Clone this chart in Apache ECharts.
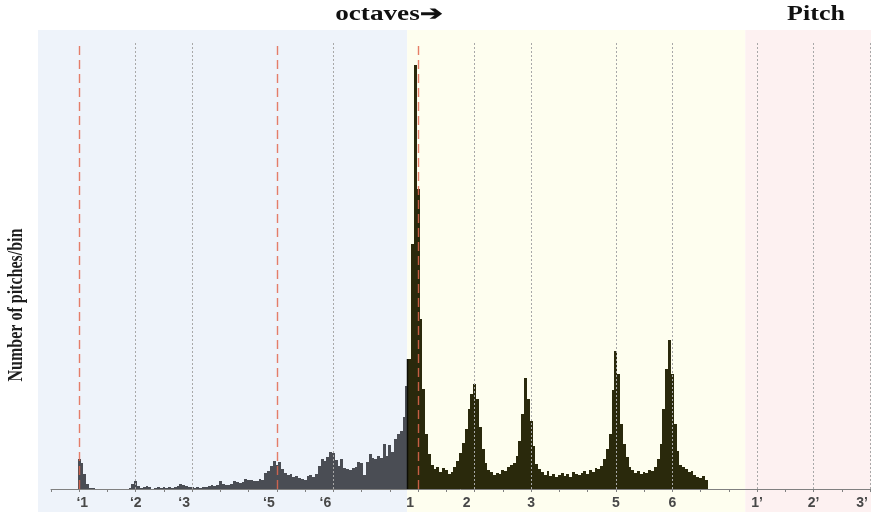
<!DOCTYPE html>
<html>
<head>
<meta charset="utf-8">
<script src="https://cdn.jsdelivr.net/npm/echarts@6/dist/echarts.min.js"></script>
<style>
  html, body { margin: 0; padding: 0; background: #ffffff; }
  #chart { width: 871px; height: 515px; }
</style>
</head>
<body>
<div id="chart"></div>
<script>
// Pitch histogram. x is measured in semitones above the lower-octave tonic ('1 = 0),
// counts are collected in 0.1-semitone bins.
const binWidth = 0.1;

// Lower octave, bins centred from 0.0 to 11.6 semitones
const lowerStart = 0.0;
const lowerCounts = [
  30, 26, 15, 5, 1, 1,
  0, 0, 0, 0, 0, 0, 0, 0, 0, 0, 0, 0,
  1, 5, 8, 3, 1,
  2, 3, 2, 0, 1, 2, 1, 2, 1, 2, 1, 2, 3, 5, 4, 3, 2, 2,
  1, 2, 1, 2, 2, 3, 4, 3, 4, 8, 5, 4, 4, 5, 8, 7, 6, 7,
  10, 9, 9, 8, 8, 10, 9, 16, 18, 23, 28, 24, 27, 20, 16, 14, 15,
  12, 13, 11, 10, 9, 13, 14, 12, 15, 23, 30, 28, 32, 37, 36, 29, 23, 30, 21, 20,
  19, 21, 22, 27, 26, 14, 27, 35, 31, 30, 33, 31, 45, 33, 44, 37, 50, 55, 58, 72, 103
];

// Middle octave, bins centred from 11.7 to 22.2 semitones
const middleStart = 11.7;
const middleCounts = [
  130, 245, 424, 300, 170, 100, 55, 35, 24,
  20, 22, 17, 21, 19, 15, 17, 22, 28, 36, 46, 60, 80, 95, 105, 90, 62, 40, 26, 19,
  17, 14, 16, 15, 19, 18, 22, 24, 26, 33, 48, 75, 111, 90, 68, 43, 25, 20, 17, 14,
  18, 13, 15, 12, 14, 16, 13, 15, 12, 17, 15, 14, 16, 18, 15, 19, 17, 21, 20, 23,
  30, 40, 55, 99, 138, 115, 65, 45, 32, 22, 19, 16, 18, 15, 17, 16, 19, 18, 22, 30,
  45, 80, 120, 149, 115, 65, 38, 24, 22, 20, 17, 18, 14, 12, 11, 13, 9
];

// Scale-degree tick labels (semitone -> label)
const degreeLabels = {
  0: '\u20181', 2: '\u20182', 4: '\u20183', 7: '\u20185', 9: '\u20186',
  12: '1', 14: '2', 16: '3', 19: '5', 21: '6',
  24: '1\u2019', 26: '2\u2019', 28: '3\u2019'
};
// Tonic / fifth reference lines and the other scale degrees
const tonicLines = [0, 7, 12];
const degreeLines = [2, 4, 9, 14, 16, 19, 21, 24, 26, 28];

// Octave region boundaries (semitones)
const regionEdges = [-1.46, 11.61, 23.58, 28.03];

const regionColors = ['#eef3fa', '#fefeef', '#fdf1f1'];
const lowerColor = '#4a4d54';
const middleColor = '#2a290c';

function toPairs(start, counts) {
  return counts.map((c, i) => [+(start + i * binWidth).toFixed(2), c]);
}

// each bin is a pixel-snapped rectangle so neighbouring bins share their edges;
// the first bin of a block can carry a dark left edge
function binRenderer(color, edgeColor) {
  return function (params, api) {
    const x = api.value(0);
    const top = api.coord([x - binWidth / 2, api.value(1)]);
    const bottom = api.coord([x + binWidth / 2, 0]);
    const x0 = Math.round(top[0]);
    const x1 = Math.round(bottom[0]);
    const rect = {
      type: 'rect',
      shape: { x: x0, y: top[1], width: x1 - x0, height: bottom[1] - top[1] },
      style: { fill: color }
    };
    if (!edgeColor || params.dataIndex !== 0) return rect;
    return {
      type: 'group',
      children: [rect, {
        type: 'line',
        shape: { x1: x0 - 0.5, y1: top[1], x2: x0 - 0.5, y2: bottom[1] },
        style: { stroke: edgeColor, lineWidth: 1.5 }
      }]
    };
  };
}

const labelFont = {
  fontFamily: '"Liberation Sans", Arial, sans-serif',
  fontWeight: 'bold',
  fontSize: 14,
  color: '#484848'
};
// small per-label nudges so the degree names sit where they read best
const labelShift = { 0: 'r', 4: 'l', 7: 'l', 9: 'l', 12: 'l', 14: 'l', 28: 'l' };

const headingFont = {
  fontFamily: '"Liberation Serif", "Times New Roman", serif',
  fontWeight: 'bold',
  fontSize: 20,
  fill: '#111111',
  align: 'center',
  verticalAlign: 'middle'
};

const chart = echarts.init(document.getElementById('chart'), null, { renderer: 'canvas' });

const option = {
  animation: false,
  backgroundColor: '#ffffff',
  graphic: [
    {
      type: 'text', x: 389, y: 15, scaleX: 1.36,
      style: Object.assign({ text: 'octaves\u2794' }, headingFont)
    },
    {
      type: 'text', x: 816, y: 15, scaleX: 1.3,
      style: Object.assign({ text: 'Pitch' }, headingFont)
    },
    {
      type: 'text',
      x: 17, y: 305,
      rotation: Math.PI / 2,
      scaleY: 1.25,
      style: {
        text: 'Number of pitches/bin',
        fontFamily: '"Liberation Serif", "Times New Roman", serif',
        fontWeight: 'bold',
        fontSize: 16,
        fill: '#1e1e1e',
        align: 'center',
        verticalAlign: 'middle'
      }
    }
  ],
  grid: [
    { left: 38, right: 0, top: 30, bottom: 3 },
    { left: 51, right: 1, top: 41, bottom: 26 }
  ],
  xAxis: [
    { gridIndex: 0, type: 'value', min: regionEdges[0], max: regionEdges[3], show: false },
    {
      gridIndex: 1, type: 'value', min: -1, max: 28, interval: 1,
      z: 10,
      axisLine: { lineStyle: { color: '#808080', width: 1 } },
      axisTick: { show: true, length: 3, lineStyle: { color: '#808080' } },
      splitLine: { show: false },
      axisLabel: {
        margin: 7,
        showMinLabel: true, showMaxLabel: true,
        hideOverlap: false,
        formatter: function (v) {
          const t = degreeLabels[v];
          if (t === undefined) return '';
          const s = labelShift[v];
          return s ? '{' + s + '|' + t + '}' : '{c|' + t + '}';
        },
        rich: {
          c: Object.assign({}, labelFont),
          l: Object.assign({ padding: [0, 16, 0, 0] }, labelFont),
          r: Object.assign({ padding: [0, 0, 0, 6] }, labelFont)
        }
      }
    }
  ],
  yAxis: [
    { gridIndex: 0, type: 'value', min: 0, max: 1, show: false },
    { gridIndex: 1, type: 'value', min: 0, max: 448, show: false }
  ],
  series: [
    {
      name: 'regions',
      type: 'line',
      xAxisIndex: 0, yAxisIndex: 0,
      data: [],
      silent: true,
      z: 0,
      markArea: {
        silent: true,
        data: regionColors.map((c, i) => [
          { xAxis: regionEdges[i], itemStyle: { color: c } },
          { xAxis: regionEdges[i + 1] }
        ])
      }
    },
    {
      name: 'lower octave',
      type: 'custom',
      xAxisIndex: 1, yAxisIndex: 1,
      renderItem: binRenderer(lowerColor),
      data: toPairs(lowerStart, lowerCounts),
      z: 3
    },
    {
      name: 'middle octave',
      type: 'custom',
      xAxisIndex: 1, yAxisIndex: 1,
      renderItem: binRenderer(middleColor, '#0d0d05'),
      data: toPairs(middleStart, middleCounts),
      z: 3
    },
    {
      name: 'degrees',
      type: 'line',
      xAxisIndex: 1, yAxisIndex: 1,
      data: [],
      z: 5,
      markLine: {
        silent: true,
        symbol: ['none', 'none'],
        label: { show: false },
        data: degreeLines.map(v => ({
          xAxis: v,
          lineStyle: { color: '#a8a8a8', type: [2, 2], width: 1 }
        })).concat(tonicLines.map(v => ({
          xAxis: v,
          lineStyle: { color: '#e2674f', type: [9, 5], width: 1.4, opacity: 0.85 }
        })))
      }
    }
  ]
};

chart.setOption(option);
</script>
</body>
</html>
